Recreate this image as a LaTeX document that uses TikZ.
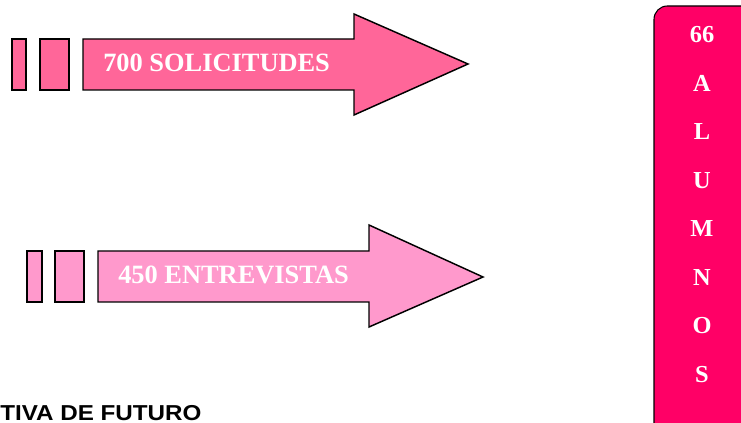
\documentclass[tikz,border=0pt]{standalone}
\usepackage{fontspec}
\setmainfont{Liberation Serif}
\newfontfamily\footsans{Liberation Sans}
\usepackage{tikz}
\usetikzlibrary{calc}

\definecolor{solpink}{HTML}{FF6699}
\definecolor{entpink}{HTML}{FF99CC}
\definecolor{alumpink}{HTML}{FF0066}

\tikzset{
  shapeline/.style = {draw = black, line width = 1.1pt, line join = miter},
  arrowlabel/.style = {anchor = base west, inner sep = 0pt, text = white,
    font = \fontsize{19.8}{20}\selectfont\bfseries},
  letter/.style = {anchor = base, inner sep = 0pt, text = white,
    font = \fontsize{18.3}{19}\selectfont\bfseries}
}

\begin{document}
\begin{tikzpicture}[x = 0.75pt, y = -0.75pt]
  \useasboundingbox (0,0) rectangle (741,423);
  \clip (0,0) rectangle (741,423);

  % top arrow
  \draw[shapeline, fill = solpink] (12,39) rectangle (26,90);
  \draw[shapeline, fill = solpink] (40,39) rectangle (69,90);
  \draw[shapeline, fill = solpink] (83,39) -- (354,39) -- (354,14) -- (468,64)
    -- (354,115) -- (354,90) -- (83,90) -- cycle;
  \node[arrowlabel] (sol) at (103,72) {700 SOLICITUDES};

  % bottom arrow
  \draw[shapeline, fill = entpink] (27,251) rectangle (42,302);
  \draw[shapeline, fill = entpink] (55,251) rectangle (84,302);
  \draw[shapeline, fill = entpink] (98,251) -- (369,251) -- (369,225) -- (483,277)
    -- (369,327) -- (369,302) -- (98,302) -- cycle;
  \node[arrowlabel] (ent) at (118,284) {450 ENTREVISTAS};

  % right box
  \draw[fill = alumpink, line width = 0.8pt, rounded corners = 10pt]
    (654,6) rectangle (770,450);
  \node[letter] (num) at (702,43) {66};
  \foreach \ch [count = \i] in {A,L,U,M,N,O,S}
    \node[letter] (let\i) at (702, 43 + 48.5*\i) {\ch};

  \node[anchor = base west, inner sep = 0pt, xscale = 1.12,
    font = \footsans\fontsize{16.2}{16}\selectfont\bfseries] (fut) at (0,420)
    {TIVA DE FUTURO};
\end{tikzpicture}
\end{document}
